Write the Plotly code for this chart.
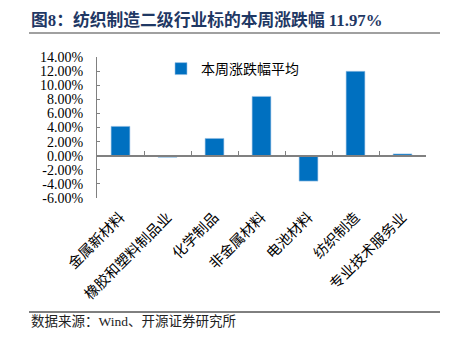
import plotly.graph_objects as go

categories = ["金属新材料", "橡胶和塑料制品业", "化学制品", "非金属材料", "电池材料", "纺织制造", "专业技术服务业"]
values = [4.16, -0.22, 2.45, 8.41, -3.6, 11.97, 0.25]
series_name = "本周涨跌幅平均"
ytick_vals = [14, 12, 10, 8, 6, 4, 2, 0, -2, -4, -6]
ytick_text = ["14.00%", "12.00%", "10.00%", "8.00%", "6.00%", "4.00%", "2.00%", "0.00%", "-2.00%", "-4.00%", "-6.00%"]
title_text = "<b>图8：纺织制造二级行业标的本周涨跌幅 11.97%</b>"
source_text = "数据来源：Wind、开源证券研究所"

W, H = 453, 351
serif = "Liberation Serif, Noto Sans CJK SC"

x0, x1 = 97 / W, 426 / W
y0, y1 = 1 - 198 / H, 1 - 57 / H
zero_pos = y0 + (0 - (-6)) / 20 * (y1 - y0)

fig = go.Figure()
fig.add_trace(go.Bar(x=categories, y=values, name=series_name, marker_color="#0070C0",
                     marker_line=dict(color="#9DC3E6", width=0.6),
                     width=0.4, showlegend=True))
fig.add_trace(go.Scatter(x=categories, y=values, xaxis="x2", mode="markers",
                         marker=dict(opacity=0), showlegend=False, hoverinfo="skip"))

fig.update_layout(
    width=W, height=H,
    margin=dict(l=0, r=0, t=0, b=0),
    paper_bgcolor="white", plot_bgcolor="white",
    template=None,
    font=dict(family=serif, color="#000000"),
    xaxis=dict(domain=[x0, x1], type="category", anchor="y", showline=False, ticks="",
               showgrid=False, zeroline=False, tickangle=-45, ticklabelstandoff=7,
               tickfont=dict(size=14.5, family="Noto Sans CJK SC", color="#000000")),
    xaxis2=dict(domain=[x0, x1], type="category", overlaying="x", matches="x", anchor="free",
                position=zero_pos, showline=True, linecolor="#808080", linewidth=1.5,
                ticks="inside", tickson="boundaries", ticklen=4, tickcolor="#808080",
                showticklabels=False, showgrid=False, zeroline=False),
    yaxis=dict(domain=[y0, y1], range=[-6, 14], tickvals=ytick_vals, ticktext=ytick_text,
               showline=True, linecolor="#808080", linewidth=1, ticks="inside", ticklen=3,
               tickcolor="#808080", showgrid=False, zeroline=False,
               ticklabelstandoff=10,
               tickfont=dict(size=14, family=serif, color="#000000")),
    legend=dict(x=161 / W, y=1 - 69 / H, xanchor="left", yanchor="middle",
                bgcolor="rgba(0,0,0,0)", font=dict(size=14, family="Noto Sans CJK SC", color="#000000")),
    bargap=0.6,
    annotations=[
        dict(text=title_text, xref="paper", yref="paper", x=29 / W, y=1 - 20 / H,
             xanchor="left", yanchor="middle", showarrow=False,
             font=dict(size=16.8, color="#1F3864", family=serif)),
        dict(text=source_text, xref="paper", yref="paper", x=29 / W, y=1 - 321 / H,
             xanchor="left", yanchor="middle", showarrow=False,
             font=dict(size=13.5, color="#222222", family=serif)),
    ],
    shapes=[
        dict(type="line", xref="paper", yref="paper", x0=29 / W, x1=440 / W,
             y0=1 - 33 / H, y1=1 - 33 / H, line=dict(color="#A0A0A0", width=2)),
        dict(type="line", xref="paper", yref="paper", x0=29 / W, x1=440 / W,
             y0=1 - 312 / H, y1=1 - 312 / H, line=dict(color="#000000", width=1)),
    ],
)

fig.write_html("out.html")
